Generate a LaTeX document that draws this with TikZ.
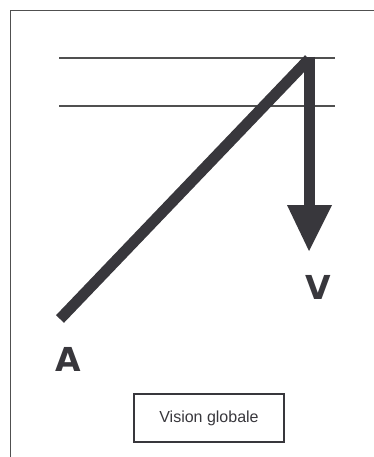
\documentclass[tikz,border=0pt]{standalone}
\usepackage{fontspec}
\setmainfont{Liberation Sans}
\newfontfamily\heavyfont{DejaVu Sans}
\usepackage{tikz}
\usetikzlibrary{arrows.meta, positioning, calc}
\definecolor{ink}{RGB}{56,55,60}
\definecolor{rule}{RGB}{80,80,80}

\tikzset{
  guide/.style={draw=rule, line width=1.3pt},
  beam/.style={draw=ink, line width=11pt},
  letter/.style={text=ink, font=\heavyfont\bfseries\fontsize{33}{33}\selectfont, inner sep=0pt},
  caption/.style={draw=ink, line width=1.2pt, minimum width=150pt, minimum height=48pt,
                  inner sep=0pt, text=ink, font=\fontsize{16}{18}\selectfont}
}

\begin{document}
\begin{tikzpicture}[x=1pt, y=-1pt]
  \useasboundingbox (0,0) rectangle (374,457);
  % outer frame, open at right and bottom
  \draw[rule, line width=1.3pt] (10.5,470) -- (10.5,10.5) -- (380,10.5);

  % horizontal guides
  \foreach \y in {58,106} {
    \draw[guide] (59,\y) -- (335,\y);
  }

  % the two beams
  \coordinate (start) at (60,319);
  \coordinate (apex) at (309,59);
  \coordinate (top) at (309,57);
  \coordinate (stem) at (309,212);
  \draw[beam] (start) -- (apex);
  \draw[beam] (top) -- (stem);
  \fill[ink] (287,205) -- (332,205) -- (309,251) -- cycle;

  \node[letter] (v) at (318,287) {V};
  \node[letter] (a) at (68.5,359) {A};

  \node[caption] (box) at (209,418) {Vision globale};
\end{tikzpicture}
\end{document}
